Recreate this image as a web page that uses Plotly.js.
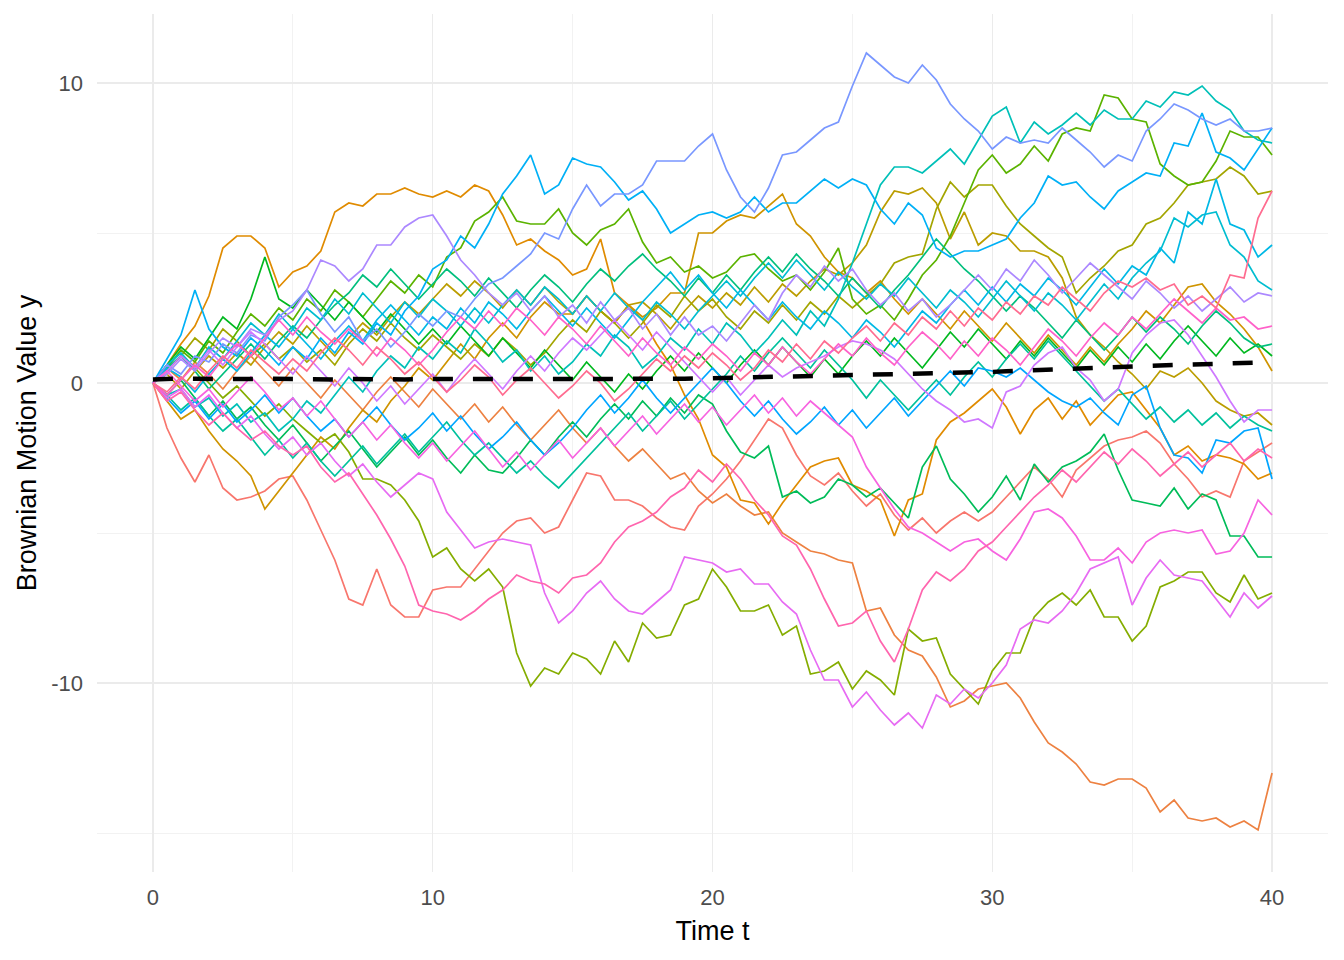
<!DOCTYPE html>
<html>
<head>
<meta charset="utf-8">
<script src="https://cdn.plot.ly/plotly-3.0.1.min.js"></script>
<style>html,body{margin:0;padding:0;background:#fff}#chart{width:1344px;height:960px}</style>
</head>
<body>
<div id="chart"></div>
<script>
// time grid (t)
const timeT = [0,0.5,1,1.5,2,2.5,3,3.5,4,4.5,5,5.5,6,6.5,7,7.5,8,8.5,9,9.5,10,10.5,11,11.5,12,12.5,13,13.5,14,14.5,15,15.5,16,16.5,17,17.5,18,18.5,19,19.5,20,20.5,21,21.5,22,22.5,23,23.5,24,24.5,25,25.5,26,26.5,27,27.5,28,28.5,29,29.5,30,30.5,31,31.5,32,32.5,33,33.5,34,34.5,35,35.5,36,36.5,37,37.5,38,38.5,39,39.5,40];

// Brownian paths (one per path)
const path01 = [0,-1.5,-2.5,-3.3,-2.4,-3.5,-3.9,-3.8,-3.6,-3.2,
 -3.1,-3.9,-4.9,-5.9,-7.2,-7.4,-6.2,-7.4,-7.8,-7.8,
 -6.9,-6.8,-6.8,-6.2,-5.6,-5.0,-4.6,-4.5,-5.0,-4.8,
 -3.9,-3.0,-3.1,-3.9,-3.9,-4.1,-4.5,-4.8,-4.9,-4.1,
 -3.7,-3.2,-2.6,-1.9,-1.2,-1.5,-2.4,-3.1,-3.4,-3.0,
 -3.6,-4.1,-3.7,-4.4,-4.9,-4.5,-5.0,-4.6,-4.3,-4.6,
 -4.3,-3.8,-3.3,-2.8,-3.2,-3.8,-2.9,-2.5,-2.1,-1.9,
 -1.8,-1.6,-2.0,-2.7,-3.2,-3.8,-3.6,-3.8,-2.6,-2.3,
 -2.0];
const path02 = [0,0.5,0.1,0.7,0.3,-0.2,0.4,0.9,0.4,-0.1,
 0.5,0.0,-0.5,0.1,-0.4,-0.9,-0.3,0.2,-0.3,-0.8,
 -0.2,-0.7,-1.2,-0.7,-1.3,-0.8,-1.4,-1.9,-1.4,-0.9,
 -1.5,-2.0,-1.5,-2.1,-2.6,-2.2,-2.7,-3.2,-3.0,-3.6,
 -4.0,-3.7,-4.1,-4.4,-4.3,-5.0,-5.3,-5.6,-5.7,-5.9,
 -6.0,-7.6,-7.5,-8.4,-8.9,-9.1,-9.8,-10.8,-10.6,-10.2,
 -10.1,-10.0,-10.5,-11.3,-12.0,-12.3,-12.7,-13.3,-13.4,-13.2,
 -13.2,-13.5,-14.3,-13.9,-14.5,-14.6,-14.5,-14.8,-14.6,-14.9,
 -13.0];
const path03 = [0,0.6,1.3,1.9,2.9,4.5,4.9,4.9,4.5,3.2,
 3.7,3.9,4.4,5.7,6.0,5.9,6.3,6.3,6.5,6.3,
 6.2,6.4,6.2,6.6,6.4,5.6,4.6,4.8,4.4,4.1,
 3.6,3.8,4.8,3.0,2.6,2.1,1.3,0.6,-0.4,-1.2,
 -2.4,-2.8,-3.9,-4.0,-4.7,-4.0,-3.4,-2.8,-2.6,-2.5,
 -3.4,-3.6,-3.9,-5.1,-3.9,-3.7,-1.9,-1.3,-1.0,-0.6,
 -0.2,-0.8,-1.7,-0.9,-0.5,-1.2,-0.6,-1.4,-0.9,-0.4,
 -0.3,-0.9,-1.5,-2.4,-2.1,-2.6,-2.4,-2.5,-2.7,-3.2,
 -3.0];
const path04 = [0,-0.6,-1.2,-0.9,-1.6,-2.2,-2.6,-3.1,-4.2,-3.6,
 -3.0,-2.4,-1.8,-2.2,-1.5,-0.9,-1.3,-0.6,-0.1,0.5,
 0.1,0.7,1.3,0.8,1.5,2.0,1.5,2.2,2.7,2.3,
 2.3,2.9,2.4,2.0,2.6,2.2,2.5,3.0,3.0,5.0,
 5.0,5.4,5.6,5.5,5.9,6.3,5.3,4.9,4.2,3.7,
 3.5,3.0,3.4,2.8,2.3,2.8,2.3,1.8,2.4,1.9,
 1.4,2.0,1.5,1.0,1.6,1.1,0.6,1.2,0.7,1.3,
 1.8,2.4,2.0,2.6,3.2,3.3,2.7,2.3,1.8,1.2,
 0.4];
const path05 = [0,0.3,-0.2,0.4,0.9,0.5,1.0,0.6,1.2,1.7,
 1.3,1.9,1.4,0.9,1.5,2.0,1.6,2.2,2.7,2.3,
 2.8,3.3,2.9,3.4,3.0,2.5,3.1,2.6,3.2,2.7,
 2.3,2.9,2.4,2.0,2.6,2.7,2.3,1.8,2.4,2.9,
 2.5,3.0,2.6,3.2,2.7,3.3,2.9,3.4,3.8,3.6,
 4.0,4.6,5.7,6.4,6.3,6.5,6.0,4.8,5.7,4.6,
 5.0,4.9,4.4,4.4,4.2,3.5,2.2,1.6,1.2,0.7,
 0.3,-0.2,0.4,0.2,0.5,0.0,-0.6,-0.9,-1.1,-1.0,
 -1.4];
const path06 = [0,0.4,0.9,1.5,1.1,1.8,1.4,0.9,1.3,0.8,
 1.2,0.7,1.1,0.6,1.3,1.8,1.4,2.0,1.5,1.1,
 1.6,1.2,0.8,1.3,0.9,1.5,1.1,0.6,1.0,1.6,
 2.1,1.7,2.4,2.0,1.5,2.0,2.6,2.2,2.9,2.4,
 2.8,2.2,1.8,2.4,2.0,2.6,2.1,2.7,2.3,2.9,
 2.5,2.9,3.3,4.0,4.2,4.3,5.8,6.7,6.2,6.6,
 6.6,5.9,5.3,4.9,4.5,4.2,3.0,3.5,3.9,4.4,
 4.6,5.3,5.5,6.0,6.6,6.7,6.8,7.2,6.9,6.3,
 6.4];
const path07 = [0,0.4,0.9,0.5,0.0,-0.5,-0.1,-0.6,-1.1,-0.7,
 -1.2,-1.6,-2.0,-1.7,-2.3,-3.2,-3.2,-3.4,-3.9,-4.6,
 -5.8,-5.5,-6.2,-6.6,-6.2,-6.8,-9.0,-10.1,-9.5,-9.7,
 -9.0,-9.2,-9.7,-8.6,-9.3,-8.0,-8.5,-8.4,-7.4,-7.2,
 -6.2,-6.8,-7.6,-7.6,-7.4,-8.4,-8.1,-9.7,-9.6,-9.3,
 -10.2,-9.6,-9.9,-10.4,-8.2,-8.6,-8.5,-9.7,-10.2,-10.7,
 -9.6,-9.0,-9.0,-7.8,-7.3,-7.0,-7.4,-6.9,-7.8,-7.8,
 -8.6,-8.1,-6.8,-6.6,-6.3,-6.3,-7.0,-7.3,-6.4,-7.2,
 -7.0];
const path08 = [0,0.5,1.1,0.7,1.4,1.0,1.7,2.3,1.9,2.5,
 2.1,2.8,2.4,3.1,2.7,2.2,2.8,3.4,3.0,3.6,
 3.2,4.2,4.5,5.4,5.7,6.2,5.4,5.3,5.3,5.8,
 5.0,4.6,5.1,5.3,5.8,4.7,4.0,4.2,3.7,3.9,
 3.5,3.7,4.2,4.3,3.8,3.4,3.6,3.1,3.7,4.5,
 2.8,2.3,2.6,2.1,2.8,3.6,4.1,4.9,6.0,7.1,
 7.6,7.0,7.3,7.9,7.4,8.3,8.5,8.4,9.6,9.5,
 8.8,8.7,7.3,6.9,6.6,6.7,7.4,8.4,8.2,8.2,
 7.6];
const path09 = [0,0.6,1.2,0.8,1.5,2.2,1.8,2.8,4.2,2.8,
 2.5,3.1,2.6,2.1,2.7,2.2,1.7,2.3,1.8,1.3,
 1.8,1.3,1.9,1.4,0.9,1.5,1.0,0.5,1.1,0.6,
 0.1,0.7,0.2,-0.3,0.3,-0.2,0.4,0.9,0.4,1.0,
 0.5,0.0,0.6,1.1,0.6,1.2,0.7,0.2,0.8,0.3,
 0.9,1.4,0.9,1.5,1.0,0.5,1.1,1.7,1.2,1.8,
 1.3,0.8,1.4,0.9,1.5,1.0,0.5,1.1,0.6,1.2,
 0.7,1.3,0.8,1.4,1.9,1.4,0.9,1.5,1.0,1.3,
 0.9];
const path10 = [0,-0.4,0.1,-0.5,-1.1,-0.6,-1.2,-0.8,-1.4,-1.9,
 -1.4,-2.0,-2.6,-2.1,-1.6,-2.2,-2.8,-2.3,-1.8,-2.4,
 -1.9,-2.5,-3.0,-2.4,-2.9,-3.0,-2.5,-1.9,-2.4,-1.8,
 -1.3,-1.8,-1.2,-0.7,-1.2,-0.6,-1.1,-0.5,-1.0,-0.4,
 -0.7,-1.6,-2.3,-2.5,-2.1,-3.8,-3.6,-4.0,-3.8,-3.2,
 -3.4,-3.8,-3.5,-4.0,-4.5,-2.8,-2.1,-3.2,-3.7,-4.3,
 -3.8,-3.1,-3.9,-2.7,-3.3,-2.8,-2.6,-2.3,-1.7,-2.9,
 -3.9,-4.0,-4.1,-3.5,-4.2,-3.7,-3.9,-5.1,-5.1,-5.8,
 -5.8];
const path11 = [0,0.5,0.9,0.4,-0.2,0.3,0.8,1.3,0.8,1.4,
 1.9,1.5,2.1,2.6,3.0,3.6,3.2,3.8,3.3,2.8,
 3.3,3.8,3.4,2.9,3.5,3.0,2.5,3.1,3.6,3.2,
 2.7,3.3,3.8,3.4,3.9,4.3,3.8,3.4,2.9,3.5,
 3.0,3.6,3.1,3.7,4.2,3.7,4.3,3.8,3.4,2.9,
 3.5,3.0,2.5,3.1,3.6,4.2,4.8,4.3,3.8,3.4,
 2.9,2.4,2.9,2.5,2.0,1.5,2.1,1.6,1.1,1.6,
 2.2,1.7,2.2,1.8,1.3,1.9,2.4,2.0,1.5,1.2,
 1.3];
const path12 = [0,-0.4,-0.9,-0.5,-1.1,-1.6,-1.2,-1.8,-2.4,-1.9,
 -2.5,-2.0,-2.6,-3.1,-2.6,-2.1,-2.7,-2.2,-1.7,-2.3,
 -1.8,-1.3,-1.9,-2.4,-2.0,-2.5,-3.0,-2.6,-3.1,-3.5,
 -3.0,-2.5,-2.0,-1.5,-1.0,-1.6,-1.1,-0.6,-1.2,-0.7,
 -0.2,0.3,0.9,0.4,1.0,1.5,1.0,0.5,1.1,0.6,
 0.1,-0.5,0.1,-0.4,-0.9,-0.4,0.1,-0.4,0.2,0.7,
 0.2,0.8,1.3,0.8,1.4,0.9,0.4,-0.1,-0.6,-0.2,
 -0.7,-1.2,-0.8,-1.3,-0.9,-1.4,-1.0,-1.5,-1.1,-1.4,
 -1.6];
const path13 = [0,-0.4,-0.2,-0.8,-0.5,-1.1,-0.7,-1.3,-1.0,-1.6,
 -1.2,-0.6,-1.0,-0.4,0.2,-0.3,0.4,0.9,0.5,1.2,
 0.8,1.4,1.0,1.8,1.3,0.7,1.1,0.4,0.9,0.3,
 0.7,1.3,0.9,1.6,1.2,0.5,0.9,1.5,1.1,1.8,
 1.3,2.0,1.6,1.0,1.5,2.1,1.6,2.4,1.9,2.8,
 4.0,5.3,6.6,7.2,7.2,7.0,7.4,7.8,7.3,8.1,
 8.9,9.2,8.0,8.7,8.3,8.6,9.0,8.6,9.1,8.8,
 8.8,9.4,9.2,9.7,9.6,9.9,9.4,9.1,8.4,8.1,
 8.0];
const path14 = [0,0.6,1.0,0.5,1.2,0.8,1.4,2.0,1.6,2.3,
 1.8,2.5,2.1,2.8,2.3,3.0,2.5,2.0,2.7,2.2,
 2.8,2.4,1.9,2.5,2.0,2.6,3.1,2.6,3.2,2.8,
 2.3,2.9,2.4,3.0,2.5,2.1,2.7,2.3,1.8,2.4,
 2.9,3.4,2.9,3.5,4.0,3.5,4.1,3.6,3.1,3.7,
 3.2,2.8,3.3,2.9,3.5,3.0,2.5,3.1,2.7,2.2,
 2.8,3.4,2.9,2.4,3.0,2.6,2.1,2.7,3.3,2.8,
 3.5,4.0,4.4,5.5,5.2,5.6,5.7,4.6,4.2,3.4,
 3.1];
const path15 = [0,0.5,0.2,-0.3,0.3,0.8,0.4,1.0,1.6,1.2,
 1.8,1.3,0.8,1.4,1.9,1.4,2.1,2.6,2.1,1.6,
 2.2,1.8,2.5,2.0,2.7,2.3,1.8,2.4,2.9,2.4,
 1.9,2.5,2.0,1.5,2.1,2.7,3.2,3.7,3.1,3.6,
 3.0,2.5,3.1,2.6,2.1,2.7,2.2,1.8,2.4,2.0,
 1.5,2.1,1.7,1.2,1.8,2.4,2.0,2.6,3.1,2.6,
 3.2,2.7,3.3,2.9,3.5,3.1,2.6,3.2,3.8,3.3,
 3.9,3.6,4.5,4.0,5.7,5.3,6.8,5.3,5.1,4.2,
 4.6];
const path16 = [0,0.8,1.6,3.1,1.8,1.2,0.9,1.5,1.1,0.6,
 1.2,0.8,1.5,1.0,1.7,1.3,2.0,1.6,2.4,2.9,
 3.8,4.1,4.9,4.5,5.3,6.3,6.9,7.6,6.3,6.6,
 7.5,7.3,7.2,6.7,6.1,6.4,5.8,5.0,5.3,5.6,
 5.7,5.5,5.7,6.2,5.7,6.0,6.0,6.4,6.8,6.5,
 6.8,6.6,5.8,5.3,6.0,5.6,4.5,4.2,4.4,4.4,
 4.6,4.8,5.5,6.0,6.9,6.6,6.7,6.2,5.8,6.4,
 6.7,7.0,6.9,8.0,7.9,9.0,7.7,7.5,7.1,7.8,
 8.5];
const path17 = [0,-0.5,-1.0,-0.6,-1.2,-0.7,-1.3,-0.9,-0.4,-1.0,
 -0.5,-1.1,-1.6,-1.2,-1.8,-1.3,-0.8,-1.4,-1.9,-1.5,
 -1.0,-1.6,-1.1,-1.7,-2.2,-1.8,-1.3,-1.9,-2.4,-2.0,
 -1.5,-0.9,-0.4,-1.0,-0.5,0.1,-0.5,-1.0,-0.5,0.0,
 0.5,0.0,-0.6,-1.1,-0.6,-1.2,-1.7,-1.3,-0.8,-1.4,
 -0.9,-1.5,-1.0,-0.5,-1.1,-0.6,-0.1,0.4,-0.1,0.5,
 0.4,0.2,0.5,0.1,-0.3,-0.6,-0.8,-0.5,-1.0,-1.4,
 -0.4,-0.1,-1.5,-2.4,-2.5,-3.0,-1.9,-2.0,-1.6,-1.5,
 -3.2];
const path18 = [0,0.6,0.3,0.9,0.7,1.3,1.0,1.6,1.4,2.2,
 2.6,3.1,2.3,1.7,2.2,1.4,1.8,1.2,1.7,2.3,
 1.9,2.4,2.2,2.8,3.3,3.5,3.9,4.3,5.0,4.8,
 5.8,6.6,5.9,6.3,6.3,6.6,7.4,7.4,7.4,7.9,
 8.3,7.1,6.2,5.7,6.5,7.6,7.7,8.1,8.5,8.7,
 9.9,11.0,10.6,10.2,10.0,10.6,10.1,9.3,8.8,8.4,
 7.8,8.2,8.0,8.1,8.0,8.5,8.1,7.7,7.2,7.6,
 7.4,8.4,8.8,9.3,9.1,8.8,8.6,8.8,8.4,8.4,
 8.5];
const path19 = [0,0.3,0.8,0.4,1.0,1.5,1.2,1.8,1.6,2.1,
 2.4,3.1,4.1,3.9,3.4,3.8,4.6,4.6,5.2,5.5,
 5.6,4.9,4.1,3.6,3.0,2.6,3.0,2.4,2.9,2.2,
 2.6,2.0,2.7,2.1,2.5,1.8,2.3,1.6,2.2,1.6,
 1.9,1.4,2.0,2.6,2.1,3.0,3.6,3.2,3.9,3.4,
 3.8,3.1,2.6,3.0,2.4,2.8,2.2,2.6,3.1,3.6,
 3.1,3.8,3.4,4.1,3.6,3.0,3.5,4.0,3.6,3.2,
 2.8,3.4,3.0,2.5,2.9,2.4,2.8,3.2,2.7,3.0,
 2.9];
const path20 = [0,0.4,0.9,0.5,1.1,0.6,1.2,1.7,1.3,0.8,
 0.3,0.9,0.4,-0.1,0.5,0.0,-0.6,-0.1,-0.7,-0.2,
 0.3,-0.3,0.3,0.8,0.3,-0.2,0.4,0.9,0.4,1.0,
 1.5,1.1,1.6,2.1,1.6,1.1,1.7,1.2,0.7,0.2,
 -0.3,0.2,-0.4,0.1,0.6,0.2,0.5,0.7,0.9,1.2,
 1.4,1.3,1.1,0.8,0.3,-0.2,-0.6,-0.9,-1.3,-1.2,
 -1.5,-0.3,-0.1,0.6,1.0,1.2,0.5,0.1,-0.6,-0.2,
 1.0,1.6,2.0,2.1,1.6,0.9,0.2,-0.6,-1.3,-0.9,
 -0.9];
const path21 = [0,-0.5,-0.2,-0.8,-0.4,-1.0,-1.5,-1.1,-1.7,-2.2,
 -1.8,-2.4,-2.0,-2.6,-3.1,-2.7,-3.3,-3.8,-3.4,-3.0,
 -3.2,-4.3,-4.9,-5.5,-5.3,-5.2,-5.3,-5.4,-7.0,-8.0,
 -7.6,-7.0,-6.6,-7.2,-7.6,-7.7,-7.3,-6.9,-5.8,-5.9,
 -6.0,-6.3,-6.2,-6.7,-6.7,-7.3,-7.7,-8.9,-9.9,-9.9,
 -10.8,-10.3,-10.9,-11.4,-11.0,-11.5,-10.4,-10.7,-10.2,-10.5,
 -10.0,-9.4,-8.2,-7.9,-8.0,-7.6,-7.0,-6.2,-6.0,-5.8,
 -7.4,-6.5,-5.9,-6.4,-6.5,-6.6,-7.2,-7.8,-7.0,-7.5,
 -7.1];
const path22 = [0,0.4,-0.1,-0.6,-0.2,-0.8,-0.3,0.2,-0.3,-0.9,
 -0.5,-1.1,-0.6,-1.2,-1.8,-1.3,-1.9,-1.4,-2.0,-2.5,
 -2.0,-2.6,-2.1,-1.6,-2.2,-2.8,-2.3,-2.9,-2.4,-1.9,
 -2.5,-2.0,-1.5,-2.1,-1.6,-1.1,-1.7,-1.2,-0.7,-1.3,
 -0.8,-1.4,-0.9,-0.4,-1.0,-0.5,-1.1,-0.6,-1.0,-1.4,
 -1.8,-2.8,-3.5,-4.2,-4.8,-5.0,-5.3,-5.6,-5.3,-5.2,
 -5.6,-5.9,-5.2,-4.3,-4.2,-4.5,-5.1,-5.9,-5.9,-5.5,
 -6.0,-5.3,-5.0,-4.9,-5.0,-4.9,-5.7,-5.6,-5.0,-3.9,
 -4.4];
const path23 = [0,-0.4,0.1,0.6,0.2,0.8,1.3,0.9,1.5,2.1,
 1.6,2.2,1.7,1.3,1.8,1.4,0.9,1.5,1.1,0.6,
 1.1,1.7,2.2,1.8,2.4,1.9,2.5,2.1,1.6,2.2,
 1.8,1.3,1.9,1.4,0.9,1.5,1.0,0.6,1.2,0.8,
 1.3,0.9,0.4,1.0,0.6,1.2,0.7,0.3,0.8,1.3,
 0.9,1.5,1.0,0.6,1.2,1.7,1.3,0.8,1.4,0.9,
 1.5,1.1,0.6,1.2,1.8,1.4,0.9,1.5,2.0,1.6,
 2.2,1.8,2.3,2.8,2.4,2.0,2.5,2.1,2.2,1.8,
 1.9];
const path24 = [0,-0.6,-0.3,-0.9,-1.4,-1.0,-1.5,-1.9,-1.6,-2.1,
 -2.4,-2.1,-2.8,-3.3,-3.0,-3.7,-4.4,-5.2,-6.1,-7.4,
 -7.6,-7.7,-7.9,-7.6,-7.2,-6.9,-6.4,-6.6,-6.7,-7.0,
 -6.5,-6.4,-6.0,-5.3,-4.8,-4.6,-4.3,-3.8,-3.5,-2.9,
 -3.3,-2.7,-3.2,-3.9,-4.4,-5.1,-5.4,-6.2,-7.2,-8.1,
 -8.0,-7.6,-8.6,-9.3,-8.2,-6.9,-6.3,-6.6,-6.2,-5.6,
 -5.3,-4.8,-4.3,-3.8,-3.4,-2.9,-3.3,-2.8,-2.3,-2.7,
 -2.2,-2.6,-3.1,-2.7,-2.3,-2.8,-2.4,-2.0,-2.6,-2.2,
 -2.5];
const path25 = [0,-0.3,0.2,-0.2,0.4,0.9,0.5,1.1,0.7,0.3,
 0.8,0.4,1.0,1.5,1.1,0.6,1.2,0.8,0.3,0.7,
 0.2,-0.3,0.1,0.6,0.2,-0.4,0.1,0.5,0.0,-0.5,
 -0.1,0.4,0.0,-0.6,-0.2,0.3,0.8,0.4,0.9,0.5,
 1.0,0.6,0.1,0.5,1.1,0.7,1.3,0.8,1.4,1.0,
 1.5,1.9,1.4,2.0,1.6,2.2,1.8,2.4,1.9,2.5,
 2.1,2.7,2.3,2.9,2.6,3.2,2.8,2.4,3.0,3.4,
 3.2,3.5,3.1,3.3,2.6,2.9,2.5,3.6,3.5,5.5,
 6.4];

// mean of the paths (dashed line)
const meanPath = [0.12,0.15,0.15,0.14,0.13,0.14,0.13,0.13,0.14,0.13,
 0.13,0.12,0.13,0.12,0.13,0.12,0.13,0.13,0.12,0.13,
 0.13,0.12,0.13,0.12,0.12,0.11,0.12,0.12,0.11,0.12,
 0.12,0.12,0.13,0.12,0.12,0.13,0.13,0.14,0.14,0.15,
 0.16,0.16,0.17,0.18,0.19,0.19,0.20,0.21,0.22,0.23,
 0.24,0.25,0.27,0.28,0.29,0.30,0.31,0.31,0.32,0.34,
 0.37,0.39,0.41,0.43,0.45,0.46,0.47,0.49,0.51,0.53,
 0.55,0.57,0.58,0.60,0.61,0.63,0.64,0.66,0.67,0.68,
 0.69];

// axis ticks
const xTickVals = [0,10,20,30,40];
const xTickText = ['0','10','20','30','40'];
const yTickVals = [-10,0,10];
const yTickText = ['-10','0','10'];

const paths = [path01,path02,path03,path04,path05,path06,path07,path08,path09,path10,
  path11,path12,path13,path14,path15,path16,path17,path18,path19,path20,
  path21,path22,path23,path24,path25];

// ggplot2-style hue palette: hcl(h, c=100, l=65)
function hclColor(h, c, l) {
  const hr = h * Math.PI / 180;
  const u = c * Math.cos(hr), v = c * Math.sin(hr);
  const Xn = 95.047, Yn = 100.0, Zn = 108.883;
  const den = Xn + 15 * Yn + 3 * Zn;
  const un = 4 * Xn / den, vn = 9 * Yn / den;
  const Y = Yn * Math.pow((l + 16) / 116, 3);
  const up = u / (13 * l) + un, vp = v / (13 * l) + vn;
  const X = Y * 9 * up / (4 * vp);
  const Z = Y * (12 - 3 * up - 20 * vp) / (4 * vp);
  const x = X / 100, y = Y / 100, z = Z / 100;
  let r = 3.2404542 * x - 1.5371385 * y - 0.4985314 * z;
  let g = -0.9692660 * x + 1.8760108 * y + 0.0415560 * z;
  let b = 0.0556434 * x - 0.2040259 * y + 1.0572252 * z;
  const gam = t => { t = Math.max(0, Math.min(1, t)); return t <= 0.0031308 ? 12.92 * t : 1.055 * Math.pow(t, 1 / 2.4) - 0.055; };
  const hex = t => Math.round(gam(t) * 255).toString(16).padStart(2, '0');
  return '#' + hex(r) + hex(g) + hex(b);
}

const n = paths.length;
const traces = paths.map((p, i) => ({
  x: timeT, y: p, type: 'scatter', mode: 'lines',
  line: { color: hclColor(15 + 360 * i / n, 100, 65), width: 1.7 },
  hoverinfo: 'skip'
}));
traces.push({
  x: timeT, y: meanPath, type: 'scatter', mode: 'lines',
  line: { color: '#000000', width: 4.5, dash: '20px,20px' },
  hoverinfo: 'skip'
});

const axisCommon = {
  showgrid: true, gridcolor: '#EBEBEB', gridwidth: 1.5,
  zeroline: false, showline: false, ticks: '',
  tickfont: { family: 'Liberation Sans, Arial, sans-serif', size: 22, color: '#4D4D4D' },
  fixedrange: true
};

const layout = {
  width: 1344, height: 960,
  margin: { l: 97, r: 16, t: 14, b: 88 },
  paper_bgcolor: '#FFFFFF', plot_bgcolor: '#FFFFFF',
  showlegend: false,
  font: { family: 'Liberation Sans, Arial, sans-serif', color: '#000000' },
  xaxis: Object.assign({}, axisCommon, {
    range: [-2, 42], tickmode: 'array', tickvals: xTickVals, ticktext: xTickText,
    ticklabelstandoff: 10,
    minor: { tickvals: [5, 15, 25, 35], showgrid: true, gridcolor: '#F2F2F2', gridwidth: 1 },
    title: { text: 'Time t', font: { size: 27, color: '#000000' }, standoff: 12 }
  }),
  yaxis: Object.assign({}, axisCommon, {
    range: [-16.3, 12.3], tickmode: 'array', tickvals: yTickVals, ticktext: yTickText,
    ticklabelstandoff: 13,
    minor: { tickvals: [-15, -5, 5], showgrid: true, gridcolor: '#F2F2F2', gridwidth: 1 },
    title: { text: 'Brownian Motion Value y', font: { size: 27, color: '#000000' }, standoff: 6 }
  })
};

Plotly.newPlot('chart', traces, layout, { displayModeBar: false, staticPlot: true });
</script>
</body>
</html>
